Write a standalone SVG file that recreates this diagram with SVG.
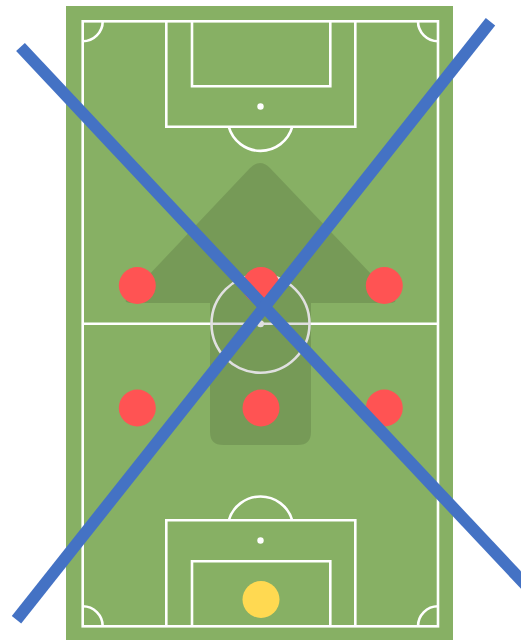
<svg xmlns="http://www.w3.org/2000/svg" width="521" height="640" viewBox="0 0 521 640">
  <defs>
    <style>
      .line { fill: none; stroke: #ffffff; stroke-width: 2.6; }
      .spot { fill: #ffffff; }
      .red { fill: #ff5353; }
      .cross { stroke: #4472c4; stroke-width: 12; stroke-linecap: butt; fill: none; }
    </style>
  </defs>
  <rect width="521" height="640" fill="#ffffff"/>
  <g id="pitch">
    <rect x="66" y="6" width="387" height="634" fill="#87b064"/>
    <rect class="line" x="82.7" y="21.3" width="355.3" height="605"/>
    <line class="line" x1="82.7" y1="323.8" x2="438" y2="323.8"/>
    <path class="line" d="M82.7,41.3 A20,20 0 0 0 102.7,21.3"/>
    <path class="line" d="M418,21.3 A20,20 0 0 0 438,41.3"/>
    <path class="line" d="M102.7,626.3 A20,20 0 0 0 82.7,606.3"/>
    <path class="line" d="M438,606.3 A20,20 0 0 0 418,626.3"/>
    <polyline class="line" points="166.3,21.3 166.3,126.7 355.3,126.7 355.3,21.3"/>
    <polyline class="line" points="192,21.3 192,86.3 330.3,86.3 330.3,21.3"/>
    <path class="line" d="M228.7,126.7 A33,33 0 0 0 292.3,126.7"/>
    <circle class="spot" cx="260.5" cy="106.5" r="3.2"/>
    <polyline class="line" points="166.3,626.3 166.3,520.3 355.3,520.3 355.3,626.3"/>
    <polyline class="line" points="192,626.3 192,561.3 330.3,561.3 330.3,626.3"/>
    <path class="line" d="M228.8,520.3 A33,33 0 0 1 292.2,520.3"/>
    <circle class="spot" cx="260.5" cy="540.5" r="3.2"/>
    <circle class="line" cx="260.5" cy="323.8" r="49"/>
    <circle class="spot" cx="260.5" cy="323.8" r="3.5"/>
  </g>
  <g id="arrow">
    <path d="M131,303 Q122,303 128,297 L250,168 Q260,158 270,168 L393,297 Q399,303 390,303 L311,303 L311,432 Q311,445 298,445 L223,445 Q210,445 210,432 L210,303 Z" fill="#000000" fill-opacity="0.12"/>
  </g>
  <g id="players">
    <circle id="p1" class="red" cx="137.3" cy="285.5" r="18.5"/>
    <circle id="p2" class="red" cx="261" cy="285.5" r="18.5"/>
    <circle id="p3" class="red" cx="384.3" cy="285.5" r="18.5"/>
    <circle id="p4" class="red" cx="137.3" cy="408" r="18.5"/>
    <circle id="p5" class="red" cx="261" cy="408" r="18.5"/>
    <circle id="p6" class="red" cx="384.3" cy="408" r="18.5"/>
    <circle id="keeper" cx="261" cy="599.5" r="18.5" fill="#ffd951"/>
  </g>
  <g id="connectors">
    <line class="cross" x1="20.5" y1="47" x2="540" y2="600.3"/>
    <line class="cross" x1="490.5" y1="21.7" x2="16.5" y2="619.7"/>
  </g>
</svg>
